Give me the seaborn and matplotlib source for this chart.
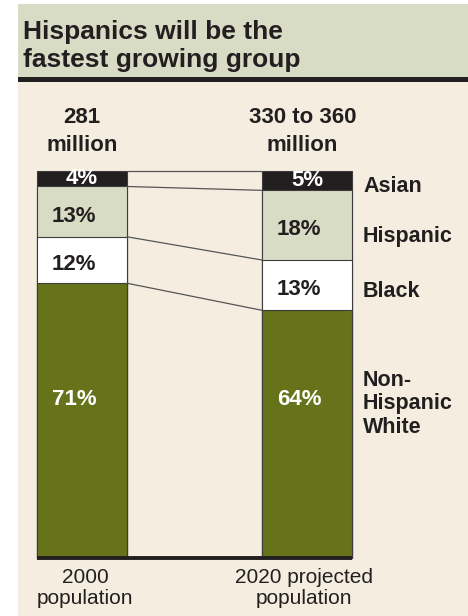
import matplotlib
matplotlib.use("Agg")
import matplotlib.pyplot as plt
from matplotlib.patches import Rectangle
import pandas as pd
import seaborn as sns

# data
years = ["2000\npopulation", "2020 projected\npopulation"]
totals = ["281\nmillion", "330 to 360\nmillion"]
group_names = ["Non-\nHispanic\nWhite", "Black", "Hispanic", "Asian"]
white = [71, 64]
black = [12, 13]
hispanic = [13, 18]
asian = [4, 5]

GREEN = "#66731b"
SAGE = "#d9dcc4"
INK = "#231f20"
CREAM = "#f5eee0"
EDGE = "#3c3c3c"

sns.set_theme(style="white")
plt.rcParams["font.family"] = ["Liberation Sans", "DejaVu Sans"]

W, H = 468, 616
fig = plt.figure(figsize=(W / 100, H / 100), dpi=100)
fig.patch.set_facecolor("white")


def fx(px):
    return px / W


def fy(py):
    return 1 - py / H


# background panels (behind the axes)
fig.patches.append(Rectangle((fx(18), 0), 1 - fx(18), fy(82), transform=fig.transFigure,
                             facecolor=CREAM, edgecolor="none", zorder=-2))
fig.patches.append(Rectangle((fx(18), fy(77)), 1 - fx(18), 73 / H, transform=fig.transFigure,
                             facecolor=SAGE, edgecolor="none", zorder=-2))
fig.patches.append(Rectangle((fx(18), fy(82)), 1 - fx(18), 5 / H, transform=fig.transFigure,
                             facecolor=INK, edgecolor="none", zorder=-2))
fig.text(fx(23), fy(46), "Hispanics will be the\nfastest growing group", ha="left", va="center",
         fontsize=19, fontweight="bold", color=INK, linespacing=1.2)

ax = fig.add_axes([0, 0, 1, 1])
ax.patch.set_alpha(0)

df = pd.DataFrame({"year": years, "white": white, "black": black,
                   "hispanic": hispanic, "asian": asian})
stack = ["white", "black", "hispanic", "asian"]
colors = {"white": GREEN, "black": "white", "hispanic": SAGE, "asian": INK}
tops = df[stack].cumsum(axis=1)
bottoms = tops - df[stack]

# stacked bars: draw cumulative heights from the top layer down
for col in reversed(stack):
    d = pd.DataFrame({"year": years, "h": tops[col]})
    sns.barplot(data=d, x="year", y="h", order=years, color=colors[col], saturation=1,
                width=0.4, edgecolor=EDGE, linewidth=0.8, errorbar=None, ax=ax)

# connector lines between the bars
for col in stack:
    ax.plot([0.2, 0.8], [tops[col][0], tops[col][1]], color="#555555", lw=0.9, zorder=1)

ax.plot([-0.2, 1.2], [0, 0], color=INK, lw=2.8, solid_capstyle="butt", zorder=5)

# percentage labels
for i in range(2):
    for col in stack:
        val = df[col][i]
        mid = (tops[col][i] + bottoms[col][i]) / 2
        if col == "asian":
            ax.text(i, mid, f"{val}%", ha="center", va="center", color="white",
                    fontsize=16, fontweight="bold", zorder=6)
        elif col == "white":
            ax.text(i - 0.135, 41, f"{val}%", ha="left", va="center", color="white",
                    fontsize=16, fontweight="bold", zorder=6)
        else:
            ax.text(i - 0.135, mid - 1.2, f"{val}%", ha="left", va="center", color=INK,
                    fontsize=16, fontweight="bold", zorder=6)

# group labels at the right
shift = {"asian": -1.5, "hispanic": -2.8, "black": -1.6}
for col, name in zip(stack, group_names):
    mid = (tops[col][1] + bottoms[col][1]) / 2
    y = 39.8 if col == "white" else mid + shift[col]
    ax.text(1.249, y, name, ha="left", va="center", color=INK, fontsize=15.5,
            fontweight="bold", linespacing=1.16)

# totals above and year labels below
for i in range(2):
    ax.text(i - 0.02 * i, 110.2, totals[i], ha="center", va="center", color=INK,
            fontsize=16, fontweight="bold", linespacing=1.38)
    ax.text(i - 0.01 * (2 * i - 1) * 1.3, -2.6, years[i], ha="center", va="top", color=INK,
            fontsize=15, linespacing=1.15)

ax.set_xlim(-82 / 225, (W - 82) / 225)
ax.set_ylim(-(H - 558) / 3.87, 558 / 3.87)
ax.axis("off")

fig.savefig("out.png", dpi=100, facecolor=fig.get_facecolor())
